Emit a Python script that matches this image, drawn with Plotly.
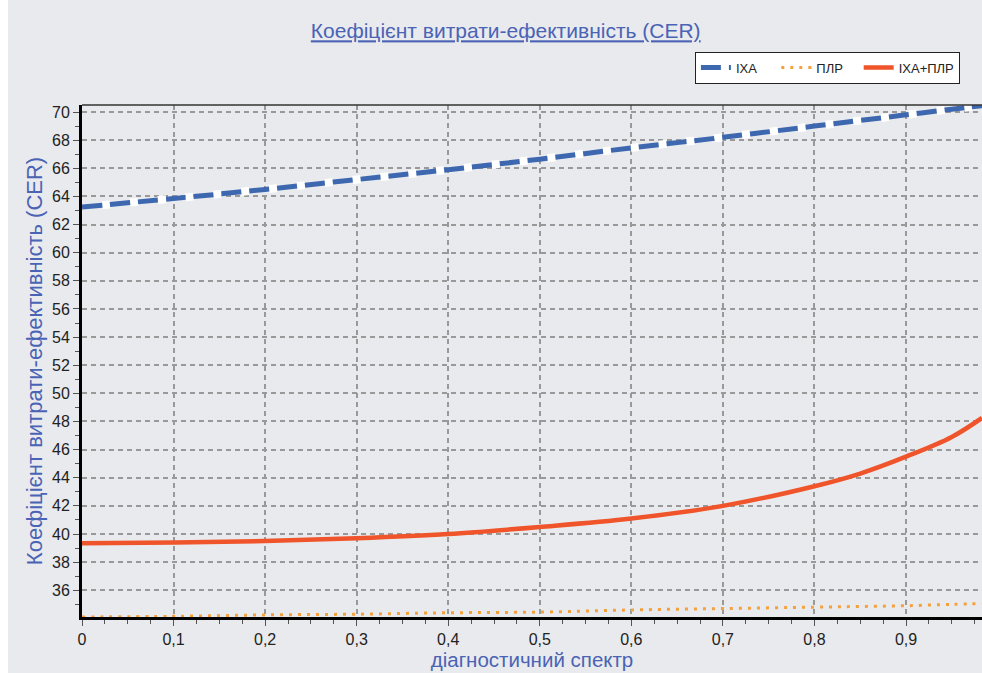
import plotly.graph_objects as go

# Data
x_vals = [0, 0.1, 0.2, 0.3, 0.4, 0.5, 0.6, 0.7, 0.8, 0.85, 0.9, 0.95, 0.983]
ixa = [63.25, 63.85, 64.5, 65.2, 65.9, 66.65, 67.45, 68.2, 69.0, 69.4, 69.8, 70.2, 70.45]
plr = [34.1, 34.15, 34.25, 34.3, 34.4, 34.45, 34.6, 34.7, 34.8, 34.85, 34.9, 35.0, 35.05]
ixa_plr = [39.35, 39.4, 39.5, 39.7, 40.0, 40.5, 41.1, 42.0, 43.4, 44.3, 45.5, 46.9, 48.25]

series_names = ["ІХА", "ПЛР", "ІХА+ПЛР"]
title_text = "Коефіцієнт витрати-ефективність (CER)"
x_title = "діагностичний спектр"
y_title = "Коефіцієнт витрати-ефективність (CER)"

BG = "#e9eaed"
BLUE = "#3d68b0"
ORANGE = "#f5a03c"
RED = "#f0542a"
TXT_BLUE = "#4a63b5"
NB = "\u00a0"

fig = go.Figure()

# white gaps of the blue dashed line
fig.add_trace(go.Scatter(x=x_vals, y=ixa, mode="lines",
                         line=dict(color="white", width=8, shape="spline", dash="0px,20px,8px,0px"),
                         showlegend=False, hoverinfo="skip"))
fig.add_trace(go.Scatter(x=x_vals, y=ixa, mode="lines", name=series_names[0] + NB * 4,
                         line=dict(color=BLUE, width=5, dash="20px,8px", shape="spline")))
fig.add_trace(go.Scatter(x=x_vals, y=plr, mode="lines", name=series_names[1] + NB * 3,
                         line=dict(color=ORANGE, width=3, dash="3px,6px", shape="spline")))
fig.add_trace(go.Scatter(x=x_vals, y=ixa_plr, mode="lines", name=series_names[2],
                         line=dict(color=RED, width=4.5, shape="spline")))

fig.update_layout(
    width=982, height=673,
    paper_bgcolor=BG, plot_bgcolor=BG,
    margin=dict(l=82, r=0, t=105, b=56, autoexpand=False),
    separators=", ",
    font=dict(family="Liberation Sans, Arial, sans-serif", size=16, color="#222"),
    title=dict(text="<u>" + title_text + "</u>", x=0.515, xanchor="center", y=0.954, yanchor="middle",
               font=dict(size=21, color=TXT_BLUE)),
    legend=dict(orientation="h", x=0.681, y=1.073, xanchor="left", yanchor="middle",
                bgcolor="white", bordercolor="#222", borderwidth=1,
                font=dict(size=13, color="#222"), itemwidth=30,
                tracegroupgap=0),
    showlegend=True,
)

fig.update_xaxes(
    range=[0, 0.983], dtick=0.1, tick0=0,
    showgrid=True, gridcolor="#999999", griddash="5px,4px", gridwidth=1.5,
    showline=True, linecolor="black", linewidth=3, mirror=False,
    ticks="outside", ticklen=6, tickcolor="#555", tickwidth=1,
    minor=dict(dtick=0.025, ticks="outside", ticklen=4, tickcolor="#555", showgrid=False),
    zeroline=False,
    title=dict(text=x_title, font=dict(size=20.5, color=TXT_BLUE), standoff=2),
    tickfont=dict(size=16, color="#222"),
)
fig.update_yaxes(
    range=[34.1, 70.5], dtick=2, tick0=36,
    showgrid=True, gridcolor="#999999", griddash="5px,4px", gridwidth=1.5,
    showline=True, linecolor="black", linewidth=3,
    ticks="outside", ticklen=6, tickcolor="#555", tickwidth=1,
    minor=dict(dtick=1, ticks="outside", ticklen=4, tickcolor="#555", showgrid=False),
    zeroline=False,
    title=dict(text=y_title, font=dict(size=22, color=TXT_BLUE), standoff=4),
    tickfont=dict(size=16, color="#222"),
)

# top border line
fig.add_shape(type="line", xref="paper", yref="paper", x0=0, x1=1, y0=1, y1=1,
              line=dict(color="#333", width=1.5))
# thin white strip at the left edge of the scanned picture
fig.add_shape(type="rect", xref="paper", yref="paper", x0=-82 / 900, x1=-74 / 900,
              y0=-56 / 512, y1=(512 + 105) / 512, line=dict(width=0), fillcolor="white", layer="below")

fig.write_html("out.html", config={"displayModeBar": False},
               post_script="document.body.style.margin='0';document.body.style.overflow='hidden';")
